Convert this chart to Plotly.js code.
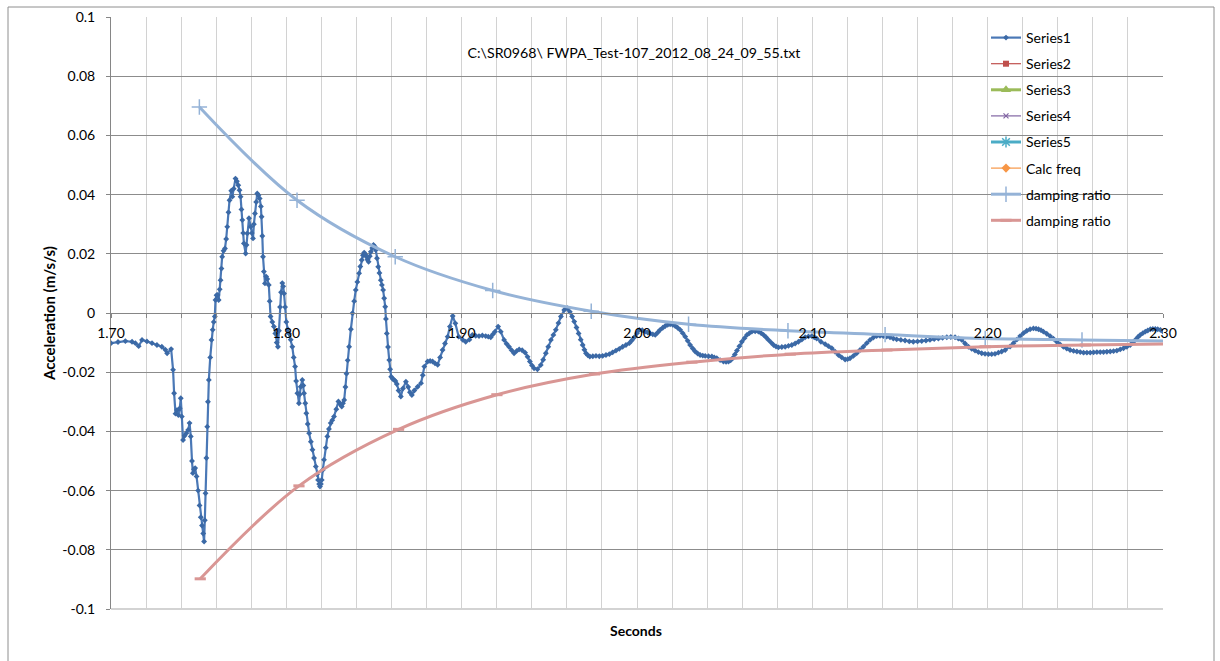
<!DOCTYPE html>
<html>
<head>
<meta charset="utf-8">
<script src="https://cdn.plot.ly/plotly-3.0.1.min.js"></script>
<style>
  html, body { margin: 0; padding: 0; background: #ffffff; }
  #chart { width: 1220px; height: 661px; }
</style>
</head>
<body>
<div id="chart"></div>
<script>
// Accelerometer record (Series1): time in seconds, acceleration in m/s/s
const seriesTime = [
  1.7000, 1.7040, 1.7082, 1.7120, 1.7139, 1.7158, 1.7177, 1.7205, 1.7234, 1.7262,
  1.7290, 1.7310, 1.7320, 1.7343, 1.7354, 1.7360, 1.7368, 1.7376, 1.7384, 1.7392,
  1.7398, 1.7404, 1.7411, 1.7420, 1.7430, 1.7440, 1.7448, 1.7455, 1.7462, 1.7467,
  1.7473, 1.7480, 1.7488, 1.7497, 1.7505, 1.7512, 1.7519, 1.7526, 1.7531, 1.7535,
  1.7539, 1.7544, 1.7549, 1.7553, 1.7558, 1.7566, 1.7573, 1.7580, 1.7586, 1.7592,
  1.7596, 1.7602, 1.7608, 1.7614, 1.7620, 1.7625, 1.7630, 1.7634, 1.7642, 1.7650,
  1.7657, 1.7663, 1.7670, 1.7676, 1.7686, 1.7692, 1.7700, 1.7710, 1.7718, 1.7726,
  1.7733, 1.7739, 1.7744, 1.7749, 1.7754, 1.7758, 1.7768, 1.7773, 1.7777, 1.7787,
  1.7797, 1.7803, 1.7810, 1.7815, 1.7821, 1.7828, 1.7834, 1.7841, 1.7848, 1.7855,
  1.7859, 1.7863, 1.7867, 1.7872, 1.7878, 1.7885, 1.7891, 1.7900, 1.7905, 1.7910,
  1.7920, 1.7929, 1.7937, 1.7945, 1.7952, 1.7958, 1.7964, 1.7970, 1.7977, 1.7982,
  1.7987, 1.7993, 1.8000, 1.8008, 1.8015, 1.8025, 1.8034, 1.8042, 1.8050, 1.8056,
  1.8063, 1.8072, 1.8077, 1.8082, 1.8091, 1.8097, 1.8101, 1.8108, 1.8114, 1.8122,
  1.8130, 1.8140, 1.8149, 1.8158, 1.8168, 1.8175, 1.8181, 1.8187, 1.8192, 1.8197,
  1.8202, 1.8208, 1.8215, 1.8225, 1.8234, 1.8243, 1.8253, 1.8262, 1.8272, 1.8285,
  1.8297, 1.8306, 1.8316, 1.8323, 1.8330, 1.8337, 1.8343, 1.8350, 1.8358, 1.8368,
  1.8377, 1.8387, 1.8396, 1.8405, 1.8415, 1.8422, 1.8430, 1.8437, 1.8444, 1.8450,
  1.8457, 1.8463, 1.8469, 1.8476, 1.8482, 1.8490, 1.8497, 1.8504, 1.8510, 1.8517,
  1.8524, 1.8531, 1.8539, 1.8545, 1.8552, 1.8558, 1.8564, 1.8568, 1.8573, 1.8580,
  1.8587, 1.8592, 1.8598, 1.8606, 1.8615, 1.8622, 1.8630, 1.8640, 1.8653, 1.8665,
  1.8682, 1.8695, 1.8705, 1.8716, 1.8730, 1.8749, 1.8768, 1.8778, 1.8787, 1.8806,
  1.8820, 1.8834, 1.8848, 1.8863, 1.8877, 1.8891, 1.8905, 1.8920, 1.8933, 1.8949,
  1.8964, 1.8983, 1.9007, 1.9023, 1.9044, 1.9061, 1.9080, 1.9099, 1.9118, 1.9137,
  1.9152, 1.9166, 1.9178, 1.9190, 1.9208, 1.9223, 1.9242, 1.9256, 1.9270, 1.9285,
  1.9299, 1.9314, 1.9328, 1.9345, 1.9362, 1.9376, 1.9389, 1.9401, 1.9413, 1.9432,
  1.9451, 1.9465, 1.9480, 1.9494, 1.9509, 1.9523, 1.9537, 1.9552, 1.9566, 1.9585,
  1.9604, 1.9617, 1.9630, 1.9642, 1.9655, 1.9667, 1.9679, 1.9690, 1.9700, 1.9709,
  1.9720, 1.9731, 1.9748, 1.9766, 1.9785, 1.9804, 1.9823, 1.9842, 1.9861, 1.9880,
  1.9899, 1.9918, 1.9937, 1.9956, 1.9970, 1.9985, 2.0000, 2.0013, 2.0030, 2.0047,
  2.0061, 2.0075, 2.0090, 2.0104, 2.0118, 2.0132, 2.0147, 2.0161, 2.0175, 2.0189,
  2.0204, 2.0218, 2.0232, 2.0246, 2.0261, 2.0275, 2.0289, 2.0303, 2.0318, 2.0332,
  2.0346, 2.0360, 2.0375, 2.0389, 2.0408, 2.0427, 2.0441, 2.0455, 2.0474, 2.0493,
  2.0508, 2.0522, 2.0534, 2.0545, 2.0558, 2.0570, 2.0584, 2.0598, 2.0613, 2.0627,
  2.0641, 2.0655, 2.0674, 2.0693, 2.0708, 2.0722, 2.0736, 2.0750, 2.0765, 2.0779,
  2.0793, 2.0807, 2.0826, 2.0845, 2.0864, 2.0883, 2.0902, 2.0921, 2.0940, 2.0959,
  2.0978, 2.0997, 2.1011, 2.1025, 2.1049, 2.1073, 2.1092, 2.1111, 2.1130, 2.1149,
  2.1168, 2.1187, 2.1201, 2.1215, 2.1234, 2.1253, 2.1272, 2.1291, 2.1310, 2.1329,
  2.1348, 2.1367, 2.1386, 2.1405, 2.1424, 2.1443, 2.1462, 2.1481, 2.1505, 2.1529,
  2.1553, 2.1576, 2.1600, 2.1624, 2.1648, 2.1671, 2.1695, 2.1719, 2.1743, 2.1767,
  2.1790, 2.1814, 2.1833, 2.1852, 2.1871, 2.1890, 2.1909, 2.1928, 2.1947, 2.1966,
  2.1985, 2.2004, 2.2023, 2.2042, 2.2061, 2.2080, 2.2100, 2.2128, 2.2147, 2.2166,
  2.2185, 2.2204, 2.2223, 2.2242, 2.2261, 2.2276, 2.2290, 2.2304, 2.2318, 2.2337,
  2.2356, 2.2375, 2.2394, 2.2413, 2.2432, 2.2451, 2.2470, 2.2490, 2.2509, 2.2528,
  2.2547, 2.2566, 2.2585, 2.2604, 2.2623, 2.2642, 2.2661, 2.2680, 2.2699, 2.2718,
  2.2737, 2.2756, 2.2775, 2.2794, 2.2813, 2.2828, 2.2842, 2.2856, 2.2870, 2.2885,
  2.2899, 2.2913, 2.2928, 2.2942, 2.2956, 2.2970, 2.2985, 2.3000
];
const seriesAccel = [
  -0.0102, -0.0098, -0.0095, -0.0097, -0.0102, -0.0112, -0.0091, -0.0096, -0.0102, -0.0108,
  -0.0114, -0.0124, -0.0136, -0.0122, -0.0192, -0.0271, -0.0340, -0.0328, -0.0345, -0.0322,
  -0.0288, -0.0350, -0.0429, -0.0415, -0.0406, -0.0395, -0.0372, -0.0417, -0.0500, -0.0541,
  -0.0528, -0.0524, -0.0552, -0.0600, -0.0650, -0.0690, -0.0718, -0.0745, -0.0772, -0.0700,
  -0.0609, -0.0490, -0.0384, -0.0300, -0.0226, -0.0150, -0.0091, -0.0057, -0.0030, -0.0012,
  0.0044, 0.0060, 0.0061, 0.0044, 0.0080, 0.0111, 0.0150, 0.0190, 0.0210, 0.0218,
  0.0250, 0.0291, 0.0340, 0.0381, 0.0413, 0.0393, 0.0420, 0.0454, 0.0445, 0.0432,
  0.0415, 0.0393, 0.0350, 0.0314, 0.0270, 0.0235, 0.0201, 0.0230, 0.0269, 0.0320,
  0.0291, 0.0270, 0.0252, 0.0300, 0.0336, 0.0375, 0.0404, 0.0398, 0.0387, 0.0360,
  0.0325, 0.0260, 0.0190, 0.0140, 0.0100, 0.0123, 0.0115, 0.0095, 0.0040, -0.0012,
  -0.0030, -0.0046, -0.0069, -0.0100, -0.0114, -0.0060, 0.0020, 0.0070, 0.0101, 0.0090,
  0.0066, 0.0020, -0.0030, -0.0055, -0.0069, -0.0090, -0.0114, -0.0150, -0.0181, -0.0230,
  -0.0271, -0.0305, -0.0275, -0.0249, -0.0226, -0.0245, -0.0271, -0.0305, -0.0339, -0.0375,
  -0.0406, -0.0435, -0.0462, -0.0490, -0.0519, -0.0545, -0.0564, -0.0578, -0.0586, -0.0578,
  -0.0564, -0.0530, -0.0496, -0.0455, -0.0417, -0.0392, -0.0372, -0.0362, -0.0350, -0.0325,
  -0.0299, -0.0308, -0.0316, -0.0305, -0.0294, -0.0250, -0.0205, -0.0160, -0.0114, -0.0055,
  -0.0001, 0.0040, 0.0078, 0.0105, 0.0134, 0.0157, 0.0179, 0.0195, 0.0204, 0.0198,
  0.0190, 0.0180, 0.0173, 0.0192, 0.0207, 0.0220, 0.0230, 0.0225, 0.0213, 0.0185,
  0.0156, 0.0135, 0.0111, 0.0095, 0.0078, 0.0050, 0.0021, -0.0020, -0.0069, -0.0115,
  -0.0159, -0.0190, -0.0215, -0.0222, -0.0226, -0.0230, -0.0240, -0.0262, -0.0282, -0.0255,
  -0.0232, -0.0250, -0.0268, -0.0277, -0.0262, -0.0249, -0.0237, -0.0210, -0.0181, -0.0164,
  -0.0162, -0.0164, -0.0170, -0.0175, -0.0150, -0.0125, -0.0103, -0.0080, -0.0046, -0.0010,
  -0.0035, -0.0080, -0.0091, -0.0097, -0.0090, -0.0074, -0.0077, -0.0078, -0.0076, -0.0078,
  -0.0080, -0.0082, -0.0072, -0.0063, -0.0046, -0.0063, -0.0091, -0.0104, -0.0114, -0.0126,
  -0.0136, -0.0128, -0.0123, -0.0126, -0.0134, -0.0148, -0.0164, -0.0177, -0.0187, -0.0190,
  -0.0176, -0.0158, -0.0136, -0.0114, -0.0091, -0.0074, -0.0057, -0.0034, -0.0012, 0.0010,
  0.0016, 0.0004, -0.0012, -0.0029, -0.0049, -0.0069, -0.0090, -0.0108, -0.0124, -0.0136,
  -0.0143, -0.0147, -0.0146, -0.0145, -0.0146, -0.0145, -0.0142, -0.0139, -0.0133, -0.0127,
  -0.0121, -0.0114, -0.0108, -0.0102, -0.0093, -0.0082, -0.0068, -0.0057, -0.0058, -0.0063,
  -0.0066, -0.0069, -0.0072, -0.0074, -0.0066, -0.0057, -0.0050, -0.0044, -0.0040, -0.0038,
  -0.0040, -0.0044, -0.0050, -0.0057, -0.0068, -0.0080, -0.0094, -0.0108, -0.0120, -0.0130,
  -0.0137, -0.0142, -0.0144, -0.0145, -0.0146, -0.0147, -0.0150, -0.0153, -0.0159, -0.0164,
  -0.0165, -0.0164, -0.0160, -0.0153, -0.0140, -0.0127, -0.0112, -0.0097, -0.0085, -0.0074,
  -0.0068, -0.0063, -0.0062, -0.0063, -0.0068, -0.0074, -0.0082, -0.0091, -0.0100, -0.0108,
  -0.0113, -0.0116, -0.0115, -0.0114, -0.0111, -0.0108, -0.0103, -0.0097, -0.0090, -0.0082,
  -0.0079, -0.0078, -0.0082, -0.0086, -0.0097, -0.0105, -0.0112, -0.0119, -0.0131, -0.0142,
  -0.0150, -0.0157, -0.0156, -0.0153, -0.0145, -0.0136, -0.0125, -0.0114, -0.0102, -0.0091,
  -0.0083, -0.0078, -0.0077, -0.0078, -0.0080, -0.0082, -0.0086, -0.0089, -0.0091, -0.0093,
  -0.0096, -0.0097, -0.0096, -0.0095, -0.0093, -0.0091, -0.0088, -0.0086, -0.0084, -0.0082,
  -0.0081, -0.0082, -0.0086, -0.0091, -0.0103, -0.0114, -0.0121, -0.0127, -0.0132, -0.0136,
  -0.0138, -0.0139, -0.0139, -0.0138, -0.0134, -0.0130, -0.0125, -0.0113, -0.0102, -0.0090,
  -0.0078, -0.0068, -0.0060, -0.0055, -0.0052, -0.0053, -0.0055, -0.0058, -0.0063, -0.0070,
  -0.0078, -0.0087, -0.0097, -0.0106, -0.0114, -0.0120, -0.0125, -0.0128, -0.0130, -0.0132,
  -0.0134, -0.0134, -0.0134, -0.0133, -0.0132, -0.0132, -0.0132, -0.0131, -0.0130, -0.0129,
  -0.0127, -0.0123, -0.0119, -0.0114, -0.0108, -0.0100, -0.0091, -0.0082, -0.0074, -0.0068,
  -0.0063, -0.0059, -0.0055, -0.0054, -0.0054, -0.0055, -0.0057, -0.0063
];

// Damping envelope, upper branch
const envUpperTime = [1.7504, 1.8061, 1.8621, 1.9177, 1.9739, 2.0294, 2.0861, 2.1415, 2.1986, 2.2538, 2.3098];
const envUpperAccel = [0.0696, 0.0381, 0.0190, 0.0076, 0.0006, -0.0038, -0.0060, -0.0073, -0.0086, -0.0091, -0.0095];

// Damping envelope, lower branch
const envLowerTime = [1.7509, 1.8072, 1.8640, 1.9201, 1.9758, 2.0313, 2.0874, 2.1425, 2.1986, 2.2557, 2.3120];
const envLowerAccel = [-0.0898, -0.0584, -0.0393, -0.0276, -0.0206, -0.0166, -0.0139, -0.0125, -0.0114, -0.0108, -0.0104];

// Axis tick labels
const xTickVals = [1.7, 1.8, 1.9, 2.0, 2.1, 2.2, 2.3];
const xTickText = ['1.70', '1.80', '1.90', '2.00', '2.10', '2.20', '2.30'];
const yTickVals = [-0.1, -0.08, -0.06, -0.04, -0.02, 0, 0.02, 0.04, 0.06, 0.08, 0.1];
const yTickText = ['-0.1', '-0.08', '-0.06', '-0.04', '-0.02', '0', '0.02', '0.04', '0.06', '0.08', '0.1'];

const chartTitle = 'C:\\SR0968\\ FWPA_Test-107_2012_08_24_09_55.txt';

const FONT = 'Lato, "Liberation Sans", sans-serif';
const GRID_V = '#D2D2D2';
const GRID_H = '#8C8C8C';
const AXIS = '#868686';

// Series with no points inside the chart still get a legend entry
function legendOnly(name, group, lineColor, lineWidth, symbol, markerSize, extraMarker) {
  return {
    type: 'scatter', mode: 'lines+markers', name: name, legendgroup: group,
    x: [null], y: [null],
    line: { color: lineColor, width: lineWidth },
    marker: Object.assign({ color: lineColor, size: markerSize, symbol: symbol }, extraMarker || {}),
    hoverinfo: 'skip'
  };
}

const traces = [
  {
    type: 'scatter', mode: 'lines+markers', name: 'Series1', legendgroup: 'g1',
    x: seriesTime, y: seriesAccel,
    line: { color: '#4A78B6', width: 2.2 },
    marker: { color: '#3B69A6', size: 4.5, symbol: 'diamond' }
  },
  legendOnly('Series2', 'g2', '#C0504D', 1.2, 'square', 6),
  legendOnly('Series3', 'g3', '#9BBB59', 3, 'triangle-up', 9),
  legendOnly('Series4', 'g4', '#8064A2', 1.2, 'x-thin-open', 5, { line: { color: '#8064A2', width: 1.2 } }),
  legendOnly('Series5', 'g5', '#4BACC6', 3, 'asterisk-open', 9, { line: { color: '#4BACC6', width: 1.5 } }),
  legendOnly('Calc freq', 'g6', '#F79646', 1.2, 'diamond', 7),
  {
    type: 'scatter', mode: 'lines+markers', name: 'damping ratio', legendgroup: 'g7',
    x: envUpperTime, y: envUpperAccel,
    line: { color: '#95B3D7', width: 3, shape: 'spline', smoothing: 1 },
    marker: { color: '#95B3D7', size: 11, symbol: 'cross-thin-open', line: { color: '#95B3D7', width: 1.5 } }
  },
  {
    type: 'scatter', mode: 'lines+markers', name: 'damping ratio', legendgroup: 'g8',
    x: envLowerTime, y: envLowerAccel,
    line: { color: '#D99694', width: 3, shape: 'spline', smoothing: 1 },
    marker: { color: '#D99694', size: 8, symbol: 'line-ew-open', line: { color: '#D99694', width: 3 } }
  }
];

// Plot area in pixels: x 111..1163, y 17..609
const PL = 111, PR = 1163, PT = 17, PB = 609;
const W = 1220, H = 661;
const px2paperX = px => (px - PL) / (PR - PL);
const px2paperY = py => (PB - py) / (PB - PT);

const layout = {
  width: W, height: H,
  margin: { l: PL, r: W - PR, t: PT, b: H - PB, pad: 0 },
  paper_bgcolor: '#ffffff', plot_bgcolor: '#ffffff',
  font: { family: FONT, size: 14, color: '#000000' },
  showlegend: true,
  title: {
    text: chartTitle,
    x: 634 / W, xanchor: 'center', xref: 'container',
    y: 1 - 53 / H, yanchor: 'middle', yref: 'container',
    font: { family: FONT, size: 14.2, color: '#000000' }
  },
  xaxis: {
    range: [1.7, 2.3], anchor: 'free', position: 0.5,
    showline: true, linecolor: AXIS, linewidth: 1,
    ticks: 'outside', ticklen: 4, tickcolor: AXIS, tickwidth: 1,
    ticklabelstandoff: 3,
    tickmode: 'array', tickvals: xTickVals, ticktext: xTickText,
    tickfont: { family: FONT, size: 14, color: '#000000' },
    showgrid: true, gridcolor: GRID_V, gridwidth: 1,
    minor: { dtick: 0.02, tick0: 1.7, showgrid: true, gridcolor: GRID_V, gridwidth: 1,
             ticks: 'outside', ticklen: 4, tickcolor: AXIS },
    zeroline: false, automargin: false, fixedrange: true
  },
  yaxis: {
    range: [-0.1, 0.1],
    showline: true, linecolor: AXIS, linewidth: 1,
    ticks: 'outside', ticklen: 4, tickcolor: AXIS,
    ticklabelstandoff: 8,
    tickmode: 'array', tickvals: yTickVals, ticktext: yTickText,
    tickfont: { family: FONT, size: 14, color: '#000000' },
    showgrid: true, gridcolor: GRID_H, gridwidth: 1,
    zeroline: false, automargin: false, fixedrange: true,
    title: { text: '<b>Acceleration (m/s/s)</b>', standoff: 3,
             font: { family: FONT, size: 15, color: '#000000' } }
  },
  legend: {
    x: px2paperX(986), xanchor: 'left',
    y: px2paperY(22), yanchor: 'top',
    traceorder: 'grouped', tracegroupgap: 4.9,
    bgcolor: 'rgba(0,0,0,0)', borderwidth: 0,
    font: { family: FONT, size: 14, color: '#000000' },
    itemwidth: 30
  },
  annotations: [
    {
      text: '<b>Seconds</b>', xref: 'paper', yref: 'paper',
      x: px2paperX(636), y: px2paperY(631), xanchor: 'center', yanchor: 'middle',
      showarrow: false, font: { family: FONT, size: 14, color: '#000000' }
    }
  ],
  shapes: [
    // outer chart frame
    { type: 'rect', xref: 'paper', yref: 'paper', layer: 'below',
      x0: px2paperX(8), x1: px2paperX(1214), y0: px2paperY(680), y1: px2paperY(7),
      line: { color: '#8E8E8E', width: 1 }, fillcolor: 'rgba(0,0,0,0)' },
    // lower edge of the plot area
    { type: 'line', xref: 'paper', yref: 'paper', layer: 'below',
      x0: 0, x1: 1, y0: 0, y1: 0, line: { color: '#C4C4C4', width: 1.5 } }
  ]
};

Plotly.newPlot('chart', traces, layout, { displayModeBar: false, staticPlot: true });
</script>
</body>
</html>
